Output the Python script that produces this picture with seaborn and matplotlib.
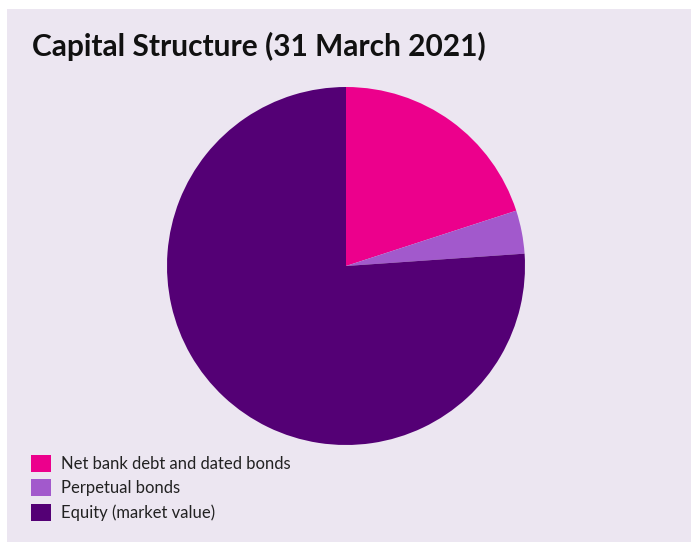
import matplotlib
matplotlib.use("Agg")
import matplotlib.pyplot as plt
from matplotlib.patches import Rectangle, Patch
import seaborn as sns

# Capital structure split (% of total)
categories = ["Net bank debt and dated bonds", "Perpetual bonds", "Equity (market value)"]
shares = [20.0, 3.9, 76.1]
colors = ["#EC008C", "#A259CC", "#540075"]
title = "Capital Structure (31 March 2021)"

sns.set_theme(style="white")
plt.rcParams["font.family"] = ["Lato", "DejaVu Sans"]

W, H = 698, 542
fig = plt.figure(figsize=(W / 100, H / 100), dpi=100)
fig.patch.set_facecolor("white")

# lavender card behind everything
fig.patches.append(Rectangle((7 / W, 0), 684 / W, (H - 9) / H,
                             transform=fig.transFigure, facecolor="#ECE6F1",
                             edgecolor="none", zorder=-5))

fig.text(32 / W, 1 - 46 / H, title, fontsize=21.5, fontweight="bold",
         color="#111111", va="center", ha="left")

ax = fig.add_axes([167 / W, (H - 445) / H, 358 / W, 358 / H])
ax.set_zorder(2)
ax.patch.set_visible(False)
ax.pie(shares, colors=colors, startangle=90, counterclock=False,
       radius=1.0, wedgeprops=dict(linewidth=0))
ax.set_xlim(-1, 1)
ax.set_ylim(-1, 1)
ax.set_aspect("equal")
ax.axis("off")

handles = [Patch(facecolor=c, edgecolor="none", label=l) for c, l in zip(colors, categories)]
leg = fig.legend(handles=handles, loc="upper left",
                 bbox_to_anchor=(24 / W, 1 - 448 / H), frameon=False,
                 fontsize=12, handlelength=1.2, handleheight=1.2,
                 handletextpad=0.6, labelspacing=0.45, borderaxespad=0)
for t in leg.get_texts():
    t.set_color("#222222")

fig.savefig("out.png", dpi=100, facecolor=fig.get_facecolor())
